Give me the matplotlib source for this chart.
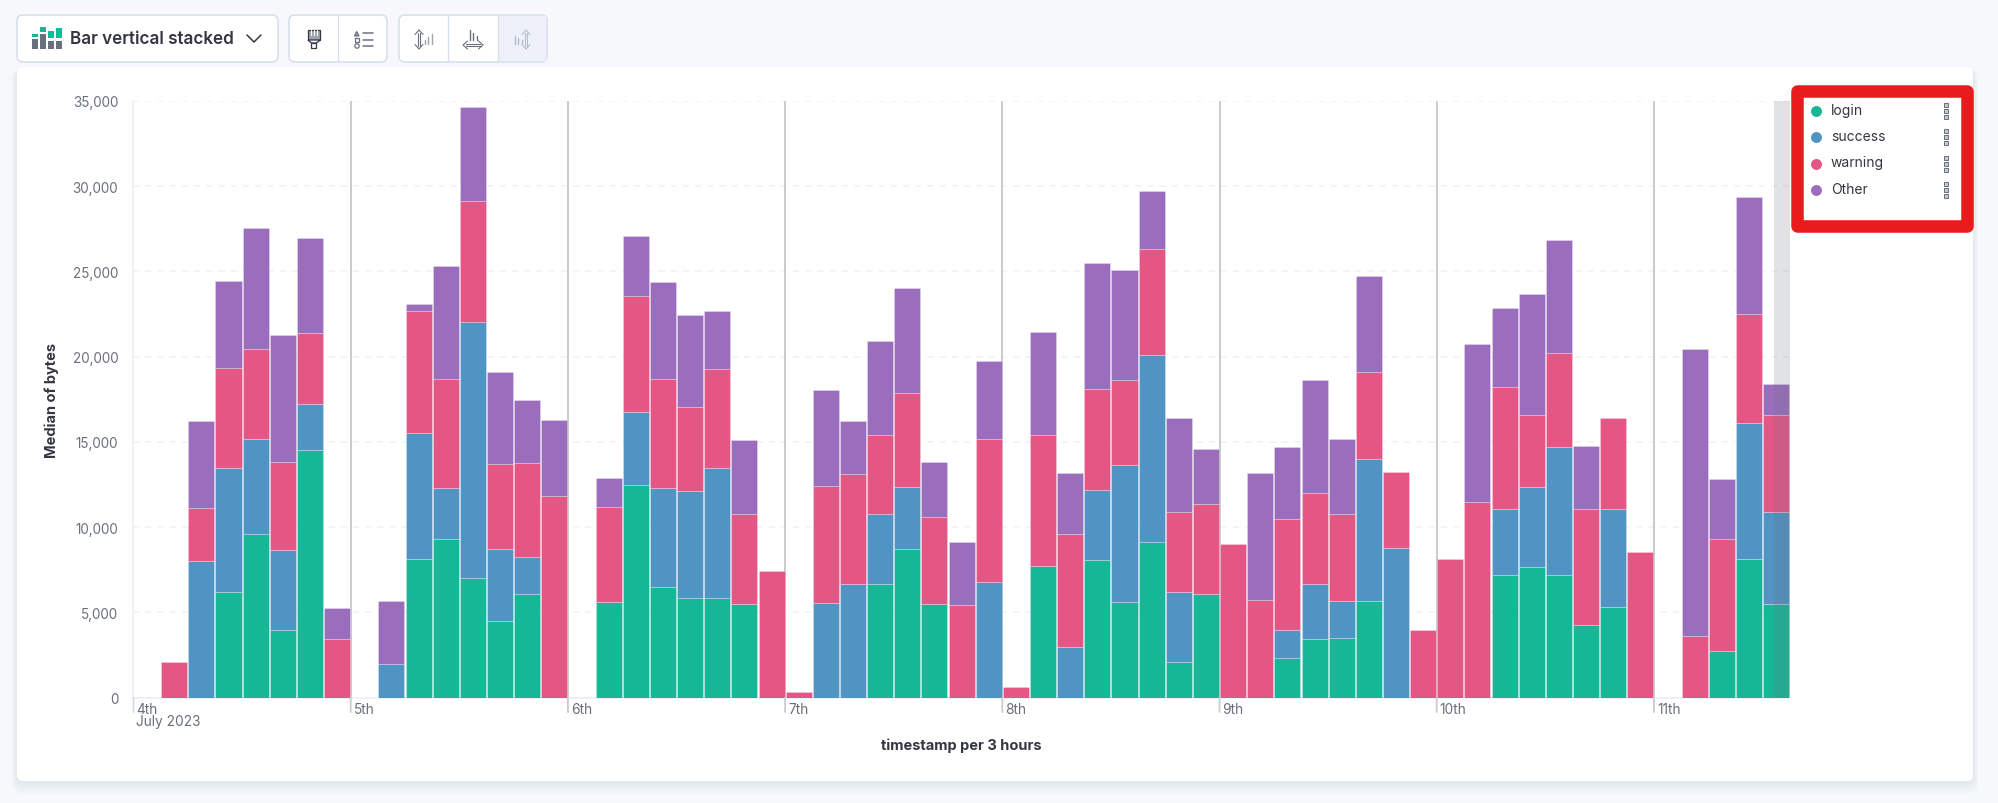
import numpy as np
import matplotlib
matplotlib.use('Agg')
import matplotlib.pyplot as plt
from matplotlib.patches import FancyBboxPatch, Rectangle, Polygon, Circle

plt.rcParams['font.family'] = ['Inter', 'DejaVu Sans']

# values per 3 hour bucket, one row per day
login = [0, 0, 0, 6210, 9610, 3990, 14510, 0,
         0, 0, 8150, 9330, 7010, 4500, 6070, 0,
         0, 5590, 12460, 6480, 5820, 5840, 5500, 0,
         0, 0, 0, 6640, 8720, 5480, 0, 0,
         0, 7710, 0, 8060, 5590, 9150, 2120, 6090,
         0, 0, 2310, 3420, 3510, 5660, 0, 0,
         0, 0, 7190, 7650, 7190, 4270, 5340, 0,
         0, 0, 2740, 8150, 5480]
success = [0, 0, 7990, 7260, 5590, 4660, 2690, 0,
           0, 1960, 7370, 2990, 15020, 4200, 2190, 0,
           0, 0, 4290, 5820, 6300, 7620, 0, 0,
           0, 5570, 6660, 4150, 3650, 0, 0, 6760,
           0, 0, 2970, 4110, 8060, 10930, 4090, 0,
           0, 0, 1690, 3260, 2150, 8330, 8790, 0,
           0, 0, 3880, 4700, 7490, 0, 5730, 0,
           0, 0, 0, 7960, 5410]
warning = [0, 2080, 3120, 5840, 5270, 5180, 4180, 3470,
           0, 0, 7160, 6390, 7100, 5020, 5500, 11820,
           0, 5570, 6800, 6410, 4950, 5800, 5250, 7440,
           340, 6820, 6460, 4590, 5480, 5110, 5410, 8440,
           620, 7670, 6640, 5960, 4980, 6250, 4700, 5270,
           8990, 5750, 6460, 5320, 5090, 5110, 4430, 3950,
           8150, 11460, 7170, 4220, 5550, 6820, 5320, 8540,
           0, 3630, 6550, 6410, 5700]
other = [0, 0, 5130, 5130, 7070, 7460, 5610, 1800,
         0, 3720, 390, 6600, 5520, 5410, 3720, 4450,
         0, 1710, 3510, 5700, 5390, 3400, 4360, 0,
         0, 5640, 3100, 5520, 6160, 3220, 3700, 4540,
         0, 6090, 3560, 7370, 6460, 3420, 5520, 3200,
         0, 7420, 4270, 6620, 4430, 5640, 0, 0,
         0, 9260, 4610, 7120, 6640, 3700, 0, 0,
         0, 16840, 3510, 6870, 1830]

series_names = ['login', 'success', 'warning', 'Other']
series_values = [login, success, warning, other]
series_colors = ['#16b797', '#5094c4', '#e45784', '#9a6ebd']

day_labels = ['4th', '5th', '6th', '7th', '8th', '9th', '10th', '11th']
y_ticks = [0, 5000, 10000, 15000, 20000, 25000, 30000, 35000]
buckets_per_day = 8

W, H = 1999, 804
TEXT = '#343741'
SUBDUED = '#69707d'
FADED = '#b4bccb'

fig = plt.figure(figsize=(W / 100, H / 100), dpi=100, facecolor='#f6f8fc')

# page chrome, drawn in pixel coordinates
bg = fig.add_axes([0, 0, 1, 1], zorder=0)
bg.set_xlim(0, W)
bg.set_ylim(H, 0)
bg.axis('off')


def box(a, x0, y0, x1, y1, face='white', edge='none', lw=0, r=6, **kw):
    p = FancyBboxPatch((x0 + r, y0 + r), x1 - x0 - 2 * r, y1 - y0 - 2 * r,
                       boxstyle='round,pad=%d,rounding_size=%d' % (r, r),
                       fc=face, ec=edge, lw=lw, **kw)
    a.add_patch(p)


def stroke(a, xs, ys, color=TEXT, lw=0.8):
    a.plot(xs, ys, color=color, lw=lw, solid_capstyle='round', solid_joinstyle='round')


def bars_icon(a, xs, heights, base, color):
    for xb, h in zip(xs, heights):
        stroke(a, [xb, xb], [base, base - h], color=color, lw=1.0)


def v_arrow(a, cx, color):
    stroke(a, [cx - 1.3, cx - 1.3], [34, 47], color=color)
    stroke(a, [cx + 1.3, cx + 1.3], [34, 47], color=color)
    stroke(a, [cx - 4, cx, cx + 4], [35.5, 31, 35.5], color=color)
    stroke(a, [cx - 4, cx, cx + 4], [45.5, 50, 45.5], color=color)


# card shadow
for i in range(9):
    box(bg, 17 - i * 0.6, 68 + i * 0.4, 1973 + i * 0.6, 782 + i * 1.6,
        face='#9aa3b5', r=8, alpha=0.022)
box(bg, 17, 68, 1973, 782, r=6)

# toolbar buttons
border = '#d8e0ed'
box(bg, 17, 16, 278, 63, edge=border, lw=1.2)
box(bg, 289, 16, 387, 63, edge=border, lw=1.2)
box(bg, 399, 16, 547, 63, edge=border, lw=1.2)
bg.add_patch(Rectangle((498, 17), 48, 45, fc='#eef1f9', ec='none'))
for xd in [338, 448, 498]:
    stroke(bg, [xd, xd], [17, 62], color=border, lw=1)

# chart type icon
for x0, g0, g1, k0 in [(32, 35, 38, 40), (40, 28, 33, 35), (48, 32, 39, 42), (56, 29, 39, 42)]:
    bg.add_patch(Rectangle((x0, g0), 6, g1 - g0, fc='#16b797', ec='none'))
    bg.add_patch(Rectangle((x0, k0), 6, 49.5 - k0, fc='#69707d', ec='none'))
bg.text(70.5, 40, 'Bar vertical stacked', fontsize=12.3, fontweight='semibold',
        color=TEXT, va='center', ha='left')
stroke(bg, [247, 254, 261], [36, 43, 36], lw=1.1)

# brush icon
bg.add_patch(Rectangle((308, 31), 12, 10, fc='#9ea3ad', ec=TEXT, lw=0.9))
for xb in [311, 314, 317]:
    stroke(bg, [xb, xb], [31, 36], color='white', lw=0.8)
bg.add_patch(Polygon([(308, 41), (320, 41), (316.5, 44), (311.5, 44)], fc='white', ec=TEXT, lw=0.9))
bg.add_patch(Rectangle((311.5, 44), 5, 5, fc='white', ec=TEXT, lw=0.9))

# legend settings icon
bg.add_patch(Polygon([(354.5, 37), (359, 37), (356.7, 32.5)], fc='#9ea3ad', ec=SUBDUED, lw=0.9))
bg.add_patch(Rectangle((355, 39), 3.8, 3.8, fc='white', ec=SUBDUED, lw=0.9))
bg.add_patch(Circle((357, 47), 2.2, fc='white', ec=SUBDUED, lw=0.9))
for yl in [33.5, 40.5, 47]:
    stroke(bg, [363, 373], [yl, yl], color=SUBDUED, lw=1.1)

# axis settings icons
v_arrow(bg, 419, SUBDUED)
bars_icon(bg, [425, 428.5, 432], [4, 7, 10], 45, '#9ea3ad')
stroke(bg, [466, 480], [44.7, 44.7], color=SUBDUED)
stroke(bg, [466, 480], [47.3, 47.3], color=SUBDUED)
stroke(bg, [467.5, 463, 467.5], [42, 46, 50], color=SUBDUED)
stroke(bg, [478.5, 483, 478.5], [42, 46, 50], color=SUBDUED)
bars_icon(bg, [470, 473.5, 477], [10, 7, 4], 41, SUBDUED)
v_arrow(bg, 526, FADED)
bars_icon(bg, [515, 518.5, 522], [8, 6, 4], 45, FADED)

# main chart
left, right, top, bottom = 133.5, 1789.7, 102, 698.7
ax = fig.add_axes([left / W, 1 - bottom / H, (right - left) / W, (bottom - top) / H], zorder=1)
ax.patch.set_alpha(0)

n = len(login)
x = np.arange(n) + 0.5
base = np.zeros(n)
for name, vals, col in zip(series_names, series_values, series_colors):
    vals = np.array(vals, dtype=float)
    keep = vals > 0
    ax.bar(x[keep], vals[keep], bottom=base[keep], width=0.96, color=col,
           edgecolor=(1, 1, 1, 0.35), linewidth=0.5, zorder=3, label=name)
    base += vals

ax.set_xlim(0, n)
ax.set_ylim(0, 35000)
ax.set_yticks(y_ticks)
ax.set_yticklabels([f'{v:,}' for v in y_ticks])
ax.tick_params(axis='y', length=0, pad=11, labelsize=9.7, labelcolor=SUBDUED)
ax.tick_params(axis='x', length=0, labelbottom=False)
ax.grid(axis='y', color='#eef1f7', linestyle=(0, (4, 4)), linewidth=1.1, zorder=0)
ax.set_axisbelow(True)
for s in ['top', 'right']:
    ax.spines[s].set_visible(False)
ax.spines['left'].set_color('#e9edf5')
ax.spines['bottom'].set_color('#e9edf5')
ax.spines['left'].set_linewidth(1.1)
ax.spines['bottom'].set_linewidth(1.1)

# day boundaries with labels below the axis
for i, lab in enumerate(day_labels):
    xd = i * buckets_per_day
    if i > 0:
        ax.axvline(xd, color='#c9cbcf', lw=1.4, zorder=2)
    ax.annotate('', xy=(xd, 0), xycoords=('data', 'axes fraction'), xytext=(xd, -0.024),
                textcoords=('data', 'axes fraction'),
                arrowprops=dict(arrowstyle='-', color='#c9cbcf' if i else '#d3dae6',
                                lw=1.3, shrinkA=0, shrinkB=0))
    ax.annotate(lab, xy=(xd, 0), xycoords=('data', 'axes fraction'), xytext=(3, -11.5),
                textcoords='offset pixels', fontsize=9.9, color=SUBDUED, va='center', ha='left')
ax.annotate('July 2023', xy=(0, 0), xycoords=('data', 'axes fraction'), xytext=(3, -23),
            textcoords='offset pixels', fontsize=9.9, color=SUBDUED, va='center', ha='left')

# grey band over the incomplete last bucket
ax.axvspan(60.42, n, color='#6a6f7a', alpha=0.2, lw=0, zorder=4)

ax.set_xlabel('timestamp per 3 hours', fontsize=10.5, fontweight='bold', color=TEXT)
ax.xaxis.set_label_coords((961 - left) / (right - left), -(746 - bottom) / (bottom - top), )
ax.xaxis.label.set_va('center')
ax.set_ylabel('Median of bytes', fontsize=10.5, fontweight='bold', color=TEXT)
ax.yaxis.set_label_coords(-(left - 52) / (right - left), 0.5)
ax.yaxis.label.set_va('center')

# legend and the red highlight box
fg = fig.add_axes([0, 0, 1, 1], zorder=2)
fg.set_xlim(0, W)
fg.set_ylim(H, 0)
fg.axis('off')
fg.add_patch(Rectangle((1797, 91.5), 170, 135, fc='white', ec='#e81c1c', lw=9, joinstyle='round'))
for k, (name, col) in enumerate(zip(series_names, series_colors)):
    yk = 112 + k * 26.4
    fg.scatter([1816], [yk], s=62, color=col, linewidths=0)
    fg.text(1831, yk - 1.5, name, fontsize=10, color=TEXT, va='center', ha='left')
    fg.scatter([1946, 1946, 1946], [yk - 6, yk, yk + 6], s=11, marker='s',
               facecolor='#c5cad3', edgecolor=SUBDUED, linewidths=0.7)

fig.savefig('out.png', dpi=100, facecolor=fig.get_facecolor())
